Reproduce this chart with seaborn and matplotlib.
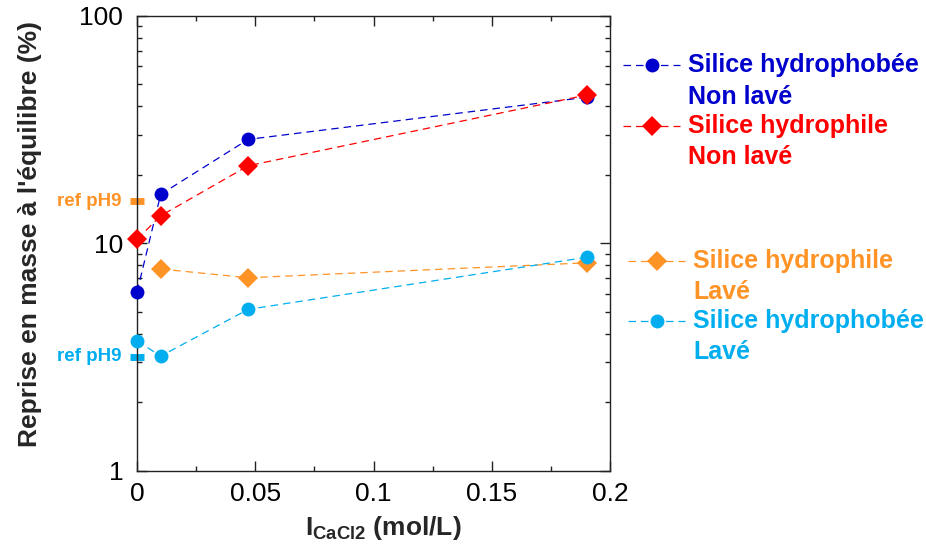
import numpy as np
import pandas as pd
import matplotlib
matplotlib.use('Agg')
import matplotlib.pyplot as plt
import seaborn as sns
from matplotlib.lines import Line2D
from matplotlib.ticker import MultipleLocator, LogLocator, FuncFormatter, NullFormatter

# Data
conc_all = [0.0, 0.01, 0.047, 0.19]
conc_orange = [0.01, 0.047, 0.19]

phobe_nonlave = [6.1, 16.4, 28.6, 43.8]
phile_nonlave = [10.4, 13.2, 21.9, 44.8]
phile_lave = [7.7, 7.05, 8.2]
phobe_lave = [3.72, 3.19, 5.12, 8.67]

ref_ph9_phile = 15.3
ref_ph9_phobe = 3.17

labels = ['Silice hydrophobée\nNon lavé', 'Silice hydrophile\nNon lavé',
          'Silice hydrophile\nLavé', 'Silice hydrophobée\nLavé']
colors = ['#0000CC', '#FF0000', '#FF9326', '#00AEEF']
markers = ['o', 'D', 'D', 'o']

sns.set_theme(style='ticks')
plt.rcParams['font.family'] = ['Liberation Sans', 'DejaVu Sans']
plt.rcParams['mathtext.fontset'] = 'custom'
plt.rcParams['mathtext.bf'] = 'Liberation Sans:bold'
plt.rcParams['mathtext.rm'] = 'Liberation Sans'

series = [
    (conc_all, phobe_nonlave),
    (conc_all, phile_nonlave),
    (conc_orange, phile_lave),
    (conc_all, phobe_lave),
]

fig = plt.figure(figsize=(9.26, 5.49), dpi=100)
ax = fig.add_axes([0.148, 0.1426, 0.511, 0.8288])

# draw order: light ones first so dark blue / red sit on top
for i in [3, 2, 0, 1]:
    xs, ys = series[i]
    df = pd.DataFrame({'x': xs, 'y': ys})
    ms = 9.7 if markers[i] == 'D' else 10
    sns.lineplot(data=df, x='x', y='y', ax=ax, color=colors[i], marker=markers[i],
                 markersize=ms, markeredgewidth=0, linewidth=0.9, dashes=False,
                 linestyle=(0, (6, 4)), clip_on=False, zorder=3 + i)

ax.set_yscale('log')
ax.set_xlim(0, 0.2)
ax.set_ylim(1, 100)

# ref pH9 marks on the y axis
for val, col in [(ref_ph9_phile, colors[2]), (ref_ph9_phobe, colors[3])]:
    ax.plot([0], [val], marker='_', markersize=10, markeredgewidth=5, color=col,
            clip_on=False, zorder=2)
    ax.annotate('ref pH9', xy=(0, val), xycoords=('axes fraction', 'data'),
                xytext=(-11, 0), textcoords='offset points', ha='right', va='center',
                fontsize=13.5, fontweight='bold', color=col, annotation_clip=False)

ax.xaxis.set_major_locator(MultipleLocator(0.05))
ax.xaxis.set_minor_locator(MultipleLocator(0.025))
ax.xaxis.set_major_formatter(FuncFormatter(lambda v, p: '0' if abs(v) < 1e-9 else f'{v:g}'))
ax.yaxis.set_major_locator(LogLocator(base=10))
ax.yaxis.set_minor_locator(LogLocator(base=10, subs=np.arange(2, 10)))
ax.yaxis.set_major_formatter(FuncFormatter(lambda v, p: f'{v:g}'))
ax.yaxis.set_minor_formatter(NullFormatter())

ax.tick_params(which='both', direction='in', top=True, right=True, colors='#222222',
               labelcolor='black', labelsize=19, width=1)
ax.tick_params(which='major', length=7)
ax.tick_params(axis='x', which='major', pad=8)
ax.tick_params(axis='y', which='major', pad=10)
ax.tick_params(which='minor', length=3.5)
for sp in ax.spines.values():
    sp.set_visible(True)
    sp.set_linewidth(1)
    sp.set_color('#222222')

ax.set_xlabel(r'$\mathbf{I_{CaCl2}}$ (mol/L)', fontsize=19, fontweight='bold')
ax.xaxis.set_label_coords(0.52, -0.095)
ax.set_ylabel("Reprise en masse à l'équilibre (%)", fontsize=19, fontweight='bold')
ax.yaxis.set_label_coords(-0.2, 0.52)
ax.set_facecolor('white')

# legend drawn by hand to match the two-group layout
W, H = 926, 549
leg = [
    (623, 680, 652, 65, 688, 97),
    (623, 680, 652, 126, 688, 157),
    (628, 685, 657, 261, 693, 292),
    (628, 685, 657, 321, 693, 352),
]
for i, (x0, x1, xm, yl, xt, y2) in enumerate(leg):
    fy = 1 - yl / H
    fig.add_artist(Line2D([x0 / W, x1 / W], [fy, fy], color=colors[i], linewidth=0.9,
                          linestyle=(0, (6, 4)), transform=fig.transFigure))
    ms = 9.7 if markers[i] == 'D' else 10
    fig.add_artist(Line2D([xm / W], [fy], color=colors[i], marker=markers[i],
                          markersize=ms, markeredgewidth=0, linestyle='none',
                          transform=fig.transFigure))
    first, second = labels[i].split('\n')
    fig.text(xt / W, fy, first, color=colors[i], fontsize=18, fontweight='bold',
             ha='left', va='center')
    fig.text(xt / W, 1 - y2 / H, second, color=colors[i], fontsize=18,
             fontweight='bold', ha='left', va='center')

fig.savefig('out.png', dpi=100, facecolor='white')
